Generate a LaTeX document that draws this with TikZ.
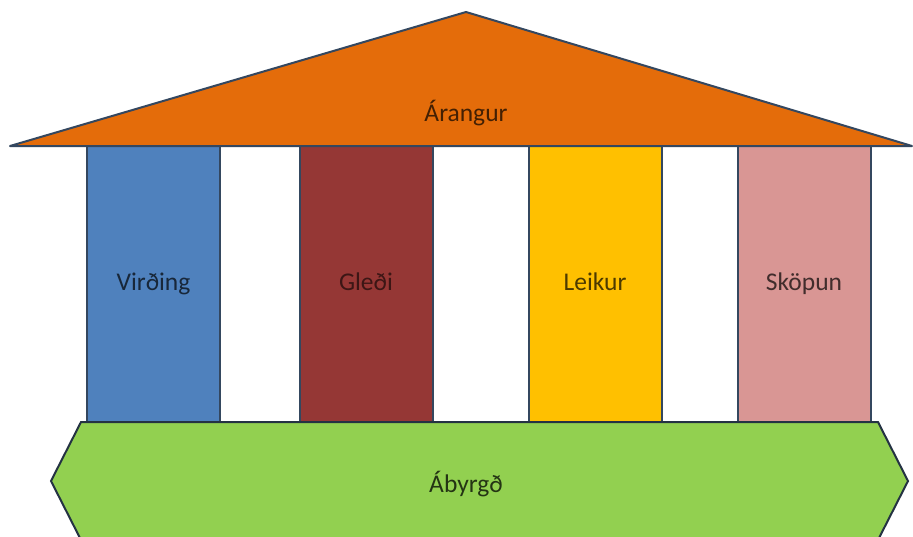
\documentclass[tikz,border=0pt]{standalone}
\usepackage{fontspec}
\setmainfont{Carlito}
\usepackage{xcolor}
\usepackage{tikz}
\usetikzlibrary{positioning}

\definecolor{edgeblue}{HTML}{34475F}
\definecolor{rooforange}{HTML}{E46C0A}
\definecolor{virdblue}{HTML}{4F81BD}
\definecolor{gledired}{HTML}{953735}
\definecolor{leikyellow}{HTML}{FFC000}
\definecolor{skoppink}{HTML}{D99694}
\definecolor{basegreen}{HTML}{92D050}

\tikzset{pillar/.style={draw=edgeblue, line width=2pt, rectangle, minimum width=133pt, minimum height=276pt, inner sep=0pt, text height=18pt, text depth=6pt}}

\begin{document}
\begin{tikzpicture}[x=1pt, y=-1pt, font=\fontsize{25.5}{30}\selectfont]
\clip (0,0) rectangle (913,536);
\fill[white] (0,0) rectangle (913,536);
% the four pillars
\node[pillar, fill=virdblue, text=virdblue!30!black] (vir) at (153.5,284) {Virðing};
\node[pillar, fill=gledired, text=gledired!40!black] (gle) at (366,284) {Gleði};
\node[pillar, fill=leikyellow, text=leikyellow!30!black] (lei) at (595,284) {Leikur};
\node[pillar, fill=skoppink, text=skoppink!30!black] (sko) at (804,284) {Sköpun};
% roof
\draw[draw=edgeblue, line width=2pt, fill=rooforange, line join=round] (10,146) -- (466,12) -- (912,146) -- cycle;
\node[text=rooforange!30!black] (ara) at (466,113) {Árangur};
% base
\draw[draw=edgeblue!70!black, line width=2pt, fill=basegreen] (81,422) -- (878,422) -- (908,481) -- (878,540) -- (81,540) -- (51,481) -- cycle;
\node[text=basegreen!25!black] (aby) at (466,484) {Ábyrgð};
\end{tikzpicture}
\end{document}
